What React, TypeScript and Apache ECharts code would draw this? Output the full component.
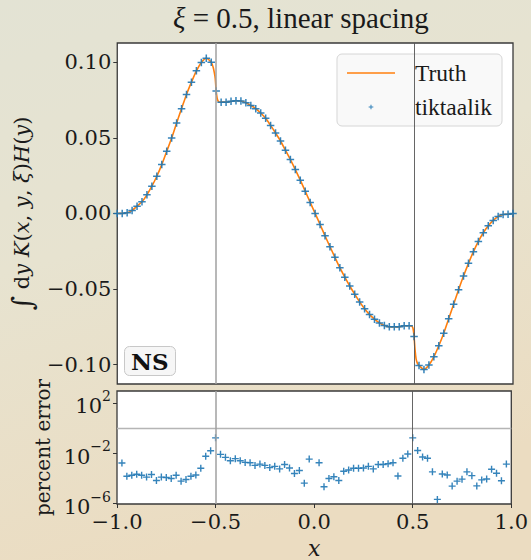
import React, { useEffect, useRef } from 'react';
import * as echarts from 'echarts';

// ---- data ----
const markerX = [
  -1, -0.975, -0.95, -0.925, -0.9, -0.875, -0.85, -0.825, -0.8, -0.775,
  -0.75, -0.725, -0.7, -0.675, -0.65, -0.625, -0.6, -0.575, -0.55, -0.525,
  -0.5, -0.475, -0.45, -0.425, -0.4, -0.375, -0.35, -0.325, -0.3, -0.275,
  -0.25, -0.225, -0.2, -0.175, -0.15, -0.125, -0.1, -0.075, -0.05, -0.025,
  0, 0.025, 0.05, 0.075, 0.1, 0.125, 0.15, 0.175, 0.2, 0.225,
  0.25, 0.275, 0.3, 0.325, 0.35, 0.375, 0.4, 0.425, 0.45, 0.475,
  0.5, 0.525, 0.55, 0.575, 0.6, 0.625, 0.65, 0.675, 0.7, 0.725,
  0.75, 0.775, 0.8, 0.825, 0.85, 0.875, 0.9, 0.925, 0.95, 0.975, 1,
];
const markerY = [
  0.0, 0.0, 0.0004, 0.002, 0.0048, 0.0077, 0.0123, 0.018, 0.0246, 0.0323,
  0.0411, 0.0499, 0.0598, 0.0693, 0.0787, 0.0868, 0.0943, 0.0998, 0.1026, 0.1,
  0.0809, 0.0736, 0.0736, 0.0741, 0.0745, 0.0743, 0.0732, 0.0714, 0.0693, 0.0664,
  0.0629, 0.0582, 0.0532, 0.0479, 0.0418, 0.0356, 0.029, 0.022, 0.0147, 0.0073,
  0.0, -0.0073, -0.0148, -0.022, -0.029, -0.0359, -0.0422, -0.048, -0.0534, -0.0585,
  -0.0631, -0.0669, -0.0699, -0.0724, -0.0741, -0.075, -0.075, -0.075, -0.0743, -0.0743,
  -0.0814, -0.1005, -0.1032, -0.1003, -0.0948, -0.0875, -0.0792, -0.0697, -0.06, -0.0504,
  -0.0414, -0.033, -0.0253, -0.0185, -0.0128, -0.0082, -0.0046, -0.002, -0.0007, -0.0005, 0.0,
];
// extra points of the true curve near the steep steps at x = ±0.5
const truthExtraX = [-0.52, -0.515, -0.51, -0.505, -0.495, -0.49, -0.485, 0.485, 0.49, 0.495, 0.505, 0.51, 0.515, 0.52];
const truthExtraY = [0.0985, 0.0965, 0.0935, 0.0895, 0.076, 0.0742, 0.0737, -0.0744, -0.0747, -0.0762, -0.0902, -0.096, -0.0985, -0.0998];

const errX = [
  -0.975, -0.95, -0.925, -0.9, -0.875, -0.85, -0.825, -0.8, -0.775, -0.75,
  -0.725, -0.7, -0.675, -0.65, -0.625, -0.6, -0.575, -0.55, -0.525, -0.5,
  -0.475, -0.45, -0.425, -0.4, -0.375, -0.35, -0.325, -0.3, -0.275, -0.25,
  -0.225, -0.2, -0.175, -0.15, -0.125, -0.1, -0.075, -0.05, -0.025,
  0.025, 0.05, 0.075, 0.1, 0.125, 0.15, 0.175, 0.2, 0.225, 0.25,
  0.275, 0.3, 0.325, 0.35, 0.375, 0.4, 0.425, 0.45, 0.475, 0.5,
  0.525, 0.55, 0.575, 0.6, 0.625, 0.65, 0.675, 0.7, 0.725, 0.75,
  0.775, 0.8, 0.825, 0.85, 0.875, 0.9, 0.925, 0.95, 0.975,
];
const errY = [
  1.7e-3, 1.5e-4, 1.8e-4, 2.2e-4, 1.8e-4, 1.3e-4, 2.1e-4, 6.9e-5, 1.3e-4, 1.2e-4,
  1.0e-4, 1.8e-4, 6.2e-5, 8.3e-5, 1.5e-4, 1.9e-4, 6.6e-4, 5.8e-3, 1.6e-2, 1.7e-1,
  8.3e-3, 4.8e-3, 2.6e-3, 3.8e-3, 2.6e-3, 1.9e-3, 1.8e-3, 1.1e-3, 1.4e-3, 1.1e-3,
  7.4e-4, 9.3e-4, 5.8e-4, 1.3e-3, 6.9e-4, 2.5e-4, 4.3e-4, 4.3e-5, 3.5e-3,
  1.8e-3, 2.2e-5, 1.0e-4, 1.4e-4, 6.9e-5, 3.8e-4, 4.8e-4, 6.6e-4, 6.6e-4, 6.9e-4,
  9.3e-4, 5.8e-4, 1.3e-3, 1.3e-3, 1.5e-3, 1.8e-3, 1.6e-4, 4.1e-3, 8.9e-3, 1.7e-1,
  1.7e-2, 5.1e-3, 4.1e-3, 3.4e-4, 2.2e-6, 2.3e-4, 1.9e-4, 2.5e-5, 6.2e-5, 8.9e-5,
  3.4e-4, 1.7e-4, 2.6e-5, 7.8e-5, 9.3e-5, 5.5e-4, 2.6e-4, 6.6e-5, 1.4e-3,
];

const xTicks = [-1, -0.5, 0, 0.5, 1];
const yTicks = [-0.1, -0.05, 0, 0.05, 0.1];
const errTicks = [1e-6, 1e-2, 1e2];
const vLines = [-0.5, 0.5];
const hLine = 1;

const SERIF = '"DejaVu Serif", serif';
const TEXT = '"Liberation Serif", serif';
const PLUS = 'path://M-1,-0.2H1V0.2H-1Z M-0.2,-1H0.2V1H-0.2Z';
const PLUS_LEGEND = 'path://M-3,-3L-3,-3 M3,3L3,3 M-1,-0.22H1V0.22H-1Z M-0.22,-1H0.22V1H-0.22Z';
const LINE_LEGEND = 'path://M0,0H48V1.6H0Z';
const BLUE = '#1f77b4';
const ORANGE = '#ff7f0e';
const INK = '#1a1a1a';

const minus = (s: string) => s.replace('-', '\u2212');

export default function App() {
  const ref = useRef<HTMLDivElement>(null);
  useEffect(() => {
    document.body.style.margin = '0';
    const chart = echarts.init(ref.current!, undefined, { renderer: 'svg' });

    const truth = markerX
      .map((x, i) => [x, markerY[i]])
      .concat(truthExtraX.map((x, i) => [x, truthExtraY[i]]))
      .sort((a, b) => a[0] - b[0]);

    const G0 = { left: 117, right: 18, top: 43, height: 341 };
    const G1 = { left: 117, right: 18, top: 391, height: 113 };
    const noLine = { show: false, onZero: false };

    chart.setOption({
      animation: false,
      backgroundColor: {
        type: 'linear', x: 0, y: 0, x2: 0.3, y2: 1,
        colorStops: [
          { offset: 0, color: '#e3e3d4' },
          { offset: 0.45, color: '#e7e3d0' },
          { offset: 1, color: '#ebdcc1' },
        ],
      },
      title: [
        {
          text: '{m|ξ}{t| = 0.5, linear spacing}',
          left: 173, top: 3, padding: 0,
          textStyle: {
            fontFamily: TEXT, fontSize: 29, fontWeight: 'normal', color: INK,
            rich: {
              m: { fontFamily: TEXT, fontStyle: 'italic', fontSize: 29, color: INK },
              t: { fontFamily: TEXT, fontSize: 29, color: INK },
            },
          },
        },
        {
          text: 'NS',
          left: 124, top: 346,
          padding: [4, 7, 3, 7],
          backgroundColor: '#f6f6f6',
          borderColor: '#c8c8c8', borderWidth: 1, borderRadius: 5,
          textStyle: { fontFamily: SERIF, fontSize: 23, fontWeight: 'bold', color: '#111' },
        },
      ],
      legend: {
        orient: 'vertical',
        right: 29, top: 54,
        padding: [7, 10, 7, 10],
        itemGap: 10,
        itemWidth: 48, itemHeight: 14,
        backgroundColor: 'rgba(248,248,248,0.82)',
        borderColor: '#d6d6d6', borderWidth: 1, borderRadius: 5,
        textStyle: { fontFamily: TEXT, fontSize: 23.5, color: INK, padding: [0, 0, 0, 15] },
        data: [
          { name: 'Truth', icon: LINE_LEGEND, itemStyle: { color: ORANGE } },
          { name: 'tiktaalik', icon: PLUS_LEGEND, itemStyle: { color: BLUE } },
        ],
      },
      grid: [
        { ...G0, show: true, backgroundColor: '#ffffff', borderColor: '#3a3a3a', borderWidth: 1.3 },
        { ...G1, show: true, backgroundColor: '#ffffff', borderColor: '#3a3a3a', borderWidth: 1.3 },
      ],
      xAxis: [
        {
          type: 'value', gridIndex: 0, min: -1, max: 1,
          axisLine: noLine, axisTick: { show: false },
          axisLabel: { show: false }, splitLine: { show: false },
        },
        {
          type: 'value', gridIndex: 1, min: -1, max: 1, interval: 0.5,
          axisLine: noLine,
          axisTick: { show: true, length: 4, lineStyle: { color: '#333' } },
          axisLabel: {
            margin: 7, fontFamily: SERIF, fontSize: 21, color: INK,
            customValues: xTicks,
            formatter: (v: number) => minus(v.toFixed(1)),
          },
          splitLine: { show: false },
          name: 'x', nameLocation: 'middle', nameGap: 33,
          nameTextStyle: { fontFamily: SERIF, fontStyle: 'italic', fontSize: 22, color: INK },
        },
      ],
      yAxis: [
        {
          type: 'value', gridIndex: 0, min: -0.1128, max: 0.1127,
          axisLine: noLine,
          axisTick: { show: true, length: 4, lineStyle: { color: '#333' }, customValues: yTicks },
          axisLabel: {
            margin: 6, fontFamily: SERIF, fontSize: 21, color: INK,
            customValues: yTicks,
            formatter: (v: number) => minus((Math.abs(v) < 1e-9 ? 0 : v).toFixed(2)),
          },
          splitLine: { show: false },
          name: '{big|∫}{r| d}{i|y K}{r|(}{i|x}{r|, }{i|y}{r|, }{i|ξ}{r|)}{i|H}{r|(}{i|y}{r|)}',
          nameLocation: 'middle', nameGap: 74, nameRotate: 90,
          nameTextStyle: {
            rich: {
              big: { fontFamily: SERIF, fontSize: 28, color: INK },
              r: { fontFamily: SERIF, fontSize: 21, color: INK },
              i: { fontFamily: SERIF, fontStyle: 'italic', fontSize: 21, color: INK },
            },
          },
        },
        {
          type: 'log', gridIndex: 1, min: 9.5e-7, max: 890,
          axisLine: noLine,
          axisTick: { show: true, length: 4, lineStyle: { color: '#333' }, customValues: errTicks },
          axisLabel: {
            margin: 6, color: INK,
            customValues: errTicks,
            formatter: (v: number) => {
              const e = Math.round(Math.log10(v));
              return `{b|10}{s|${e < 0 ? '\u2212' : ''}${Math.abs(e)}}`;
            },
            rich: {
              b: { fontFamily: SERIF, fontSize: 21, verticalAlign: 'bottom', lineHeight: 28, color: INK },
              s: { fontFamily: SERIF, fontSize: 14, verticalAlign: 'top', color: INK },
            },
          },
          splitLine: { show: false },
          name: 'percent error', nameLocation: 'middle', nameGap: 62, nameRotate: 90,
          nameTextStyle: { fontFamily: SERIF, fontSize: 20, color: INK },
        },
      ],
      series: [
        {
          name: 'Truth', type: 'line', xAxisIndex: 0, yAxisIndex: 0,
          data: truth, symbol: 'none', showSymbol: false, smooth: 0.3,
          lineStyle: { color: ORANGE, width: 1.6 }, itemStyle: { color: ORANGE },
          z: 2,
          markLine: {
            silent: true, symbol: 'none', label: { show: false },
            data: [
              { xAxis: vLines[0], lineStyle: { color: '#a0a0a0', width: 1.5, type: 'solid' } },
              { xAxis: vLines[1], lineStyle: { color: '#555', width: 0.9, type: 'solid' } },
            ],
          },
        },
        {
          name: 'tiktaalik', type: 'scatter', xAxisIndex: 0, yAxisIndex: 0,
          data: markerX.map((x, i) => [x, markerY[i]]),
          symbol: PLUS, symbolSize: 7.5,
          itemStyle: { color: BLUE, opacity: 0.9 },
          z: 3,
        },
        {
          name: 'err', type: 'scatter', xAxisIndex: 1, yAxisIndex: 1,
          data: errX.map((x, i) => [x, errY[i]]),
          symbol: PLUS, symbolSize: 7,
          itemStyle: { color: BLUE, opacity: 0.9 },
          z: 3,
          markLine: {
            silent: true, symbol: 'none', label: { show: false },
            data: [
              { yAxis: hLine, lineStyle: { color: '#b5b5b5', width: 1.4, type: 'solid' } },
              { xAxis: vLines[0], lineStyle: { color: '#a0a0a0', width: 1.5, type: 'solid' } },
              { xAxis: vLines[1], lineStyle: { color: '#555', width: 0.9, type: 'solid' } },
            ],
          },
        },
      ],
    });
    return () => chart.dispose();
  }, []);
  return <div ref={ref} style={{ width: 531, height: 560 }} />;
}
